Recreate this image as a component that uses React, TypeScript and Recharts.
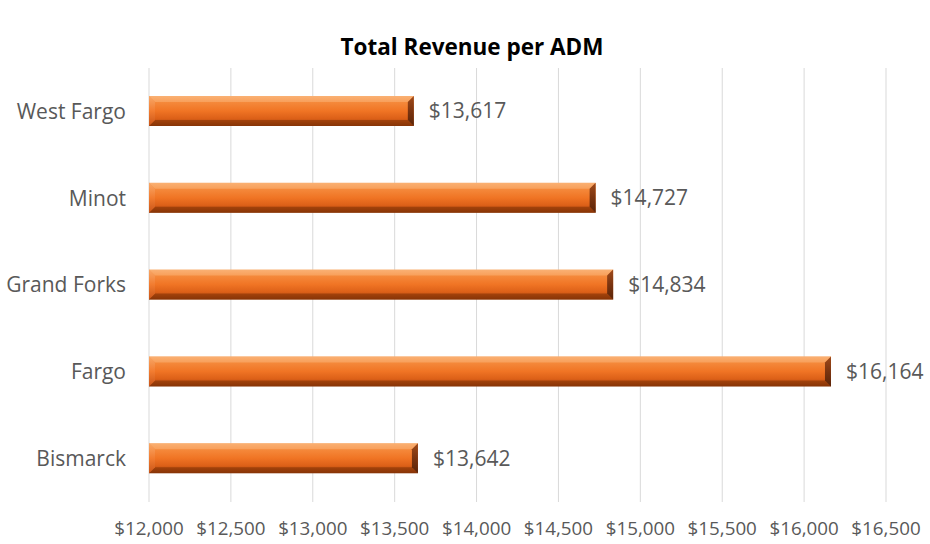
import React from 'react';
import { BarChart, Bar, XAxis, YAxis, CartesianGrid, LabelList } from 'recharts';

const categories = ['West Fargo', 'Minot', 'Grand Forks', 'Fargo', 'Bismarck'];
const revenue = [13617, 14727, 14834, 16164, 13642];
const xTicks = [12000, 12500, 13000, 13500, 14000, 14500, 15000, 15500, 16000, 16500];

const data = categories.map((name, i) => ({ name, value: revenue[i] }));

const FONT = '"Open Sans", sans-serif';
const fmt = (v: number) => '$' + v.toLocaleString('en-US');

const BevelBar = (props: any) => {
  const { x, y, width, height } = props;
  if (width <= 0) return null;
  const b = 6;
  return (
    <g>
      <rect x={x} y={y} width={width} height={height} fill="url(#barGrad)" />
      <polygon points={`${x},${y} ${x + width},${y} ${x + width - b},${y + b} ${x + b},${y + b}`} fill="rgba(255,200,150,0.35)" />
      <polygon points={`${x},${y + height} ${x + width},${y + height} ${x + width - b},${y + height - b} ${x + b},${y + height - b}`} fill="rgba(110,40,0,0.45)" />
      <polygon points={`${x},${y} ${x + b},${y + b} ${x + b},${y + height - b} ${x},${y + height}`} fill="url(#leftGrad)" />
      <polygon points={`${x + width},${y} ${x + width - b},${y + b} ${x + width - b},${y + height - b} ${x + width},${y + height}`} fill="url(#rightGrad)" />
    </g>
  );
};

export default function App() {
  return (
    <div style={{ position: 'absolute', left: 0, top: 0, width: 930, height: 544, background: '#fff' }}>
      <div style={{ position: 'absolute', left: 0, top: 31, width: 944, textAlign: 'center', fontFamily: FONT, fontWeight: 700, fontSize: 22.5, color: '#000' }}>
        Total Revenue per ADM
      </div>
      <BarChart
        width={930}
        height={544}
        data={data}
        layout="vertical"
        margin={{ top: 68, right: 44, bottom: 0, left: 0 }}
        barCategoryGap="32%"
      >
        <defs>
          <linearGradient id="barGrad" x1="0" y1="0" x2="0" y2="1">
            <stop offset="0%" stopColor="#f7a462" />
            <stop offset="20%" stopColor="#f58a3c" />
            <stop offset="50%" stopColor="#f07424" />
            <stop offset="75%" stopColor="#dc6018" />
            <stop offset="100%" stopColor="#9a3e0c" />
          </linearGradient>
          <linearGradient id="leftGrad" x1="0" y1="0" x2="0" y2="1">
            <stop offset="0%" stopColor="#f8a868" />
            <stop offset="50%" stopColor="#f27c30" />
            <stop offset="100%" stopColor="#c85418" />
          </linearGradient>
          <linearGradient id="rightGrad" x1="0" y1="0" x2="0" y2="1">
            <stop offset="0%" stopColor="#a04a1a" />
            <stop offset="50%" stopColor="#7a3410" />
            <stop offset="100%" stopColor="#5a2408" />
          </linearGradient>
        </defs>
        <CartesianGrid horizontal={false} stroke="#d9d9d9" />
        <XAxis
          type="number"
          domain={[12000, 16500]}
          ticks={xTicks}
          tickFormatter={fmt}
          axisLine={false}
          tickLine={false}
          height={42}
          tickMargin={14}
          tick={{ fill: '#595959', fontSize: 18.8, fontFamily: FONT }}
          allowDataOverflow
        />
        <YAxis
          type="category"
          dataKey="name"
          width={149}
          axisLine={false}
          tickLine={false}
          tickMargin={17}
          tick={{ fill: '#595959', fontSize: 21, fontFamily: FONT }}
        />
        <Bar dataKey="value" shape={<BevelBar />} isAnimationActive={false} barSize={30}>
          <LabelList dataKey="value" position="right" offset={15} formatter={fmt} style={{ fill: '#595959', fontSize: 21, fontFamily: FONT }} />
        </Bar>
      </BarChart>
    </div>
  );
}
